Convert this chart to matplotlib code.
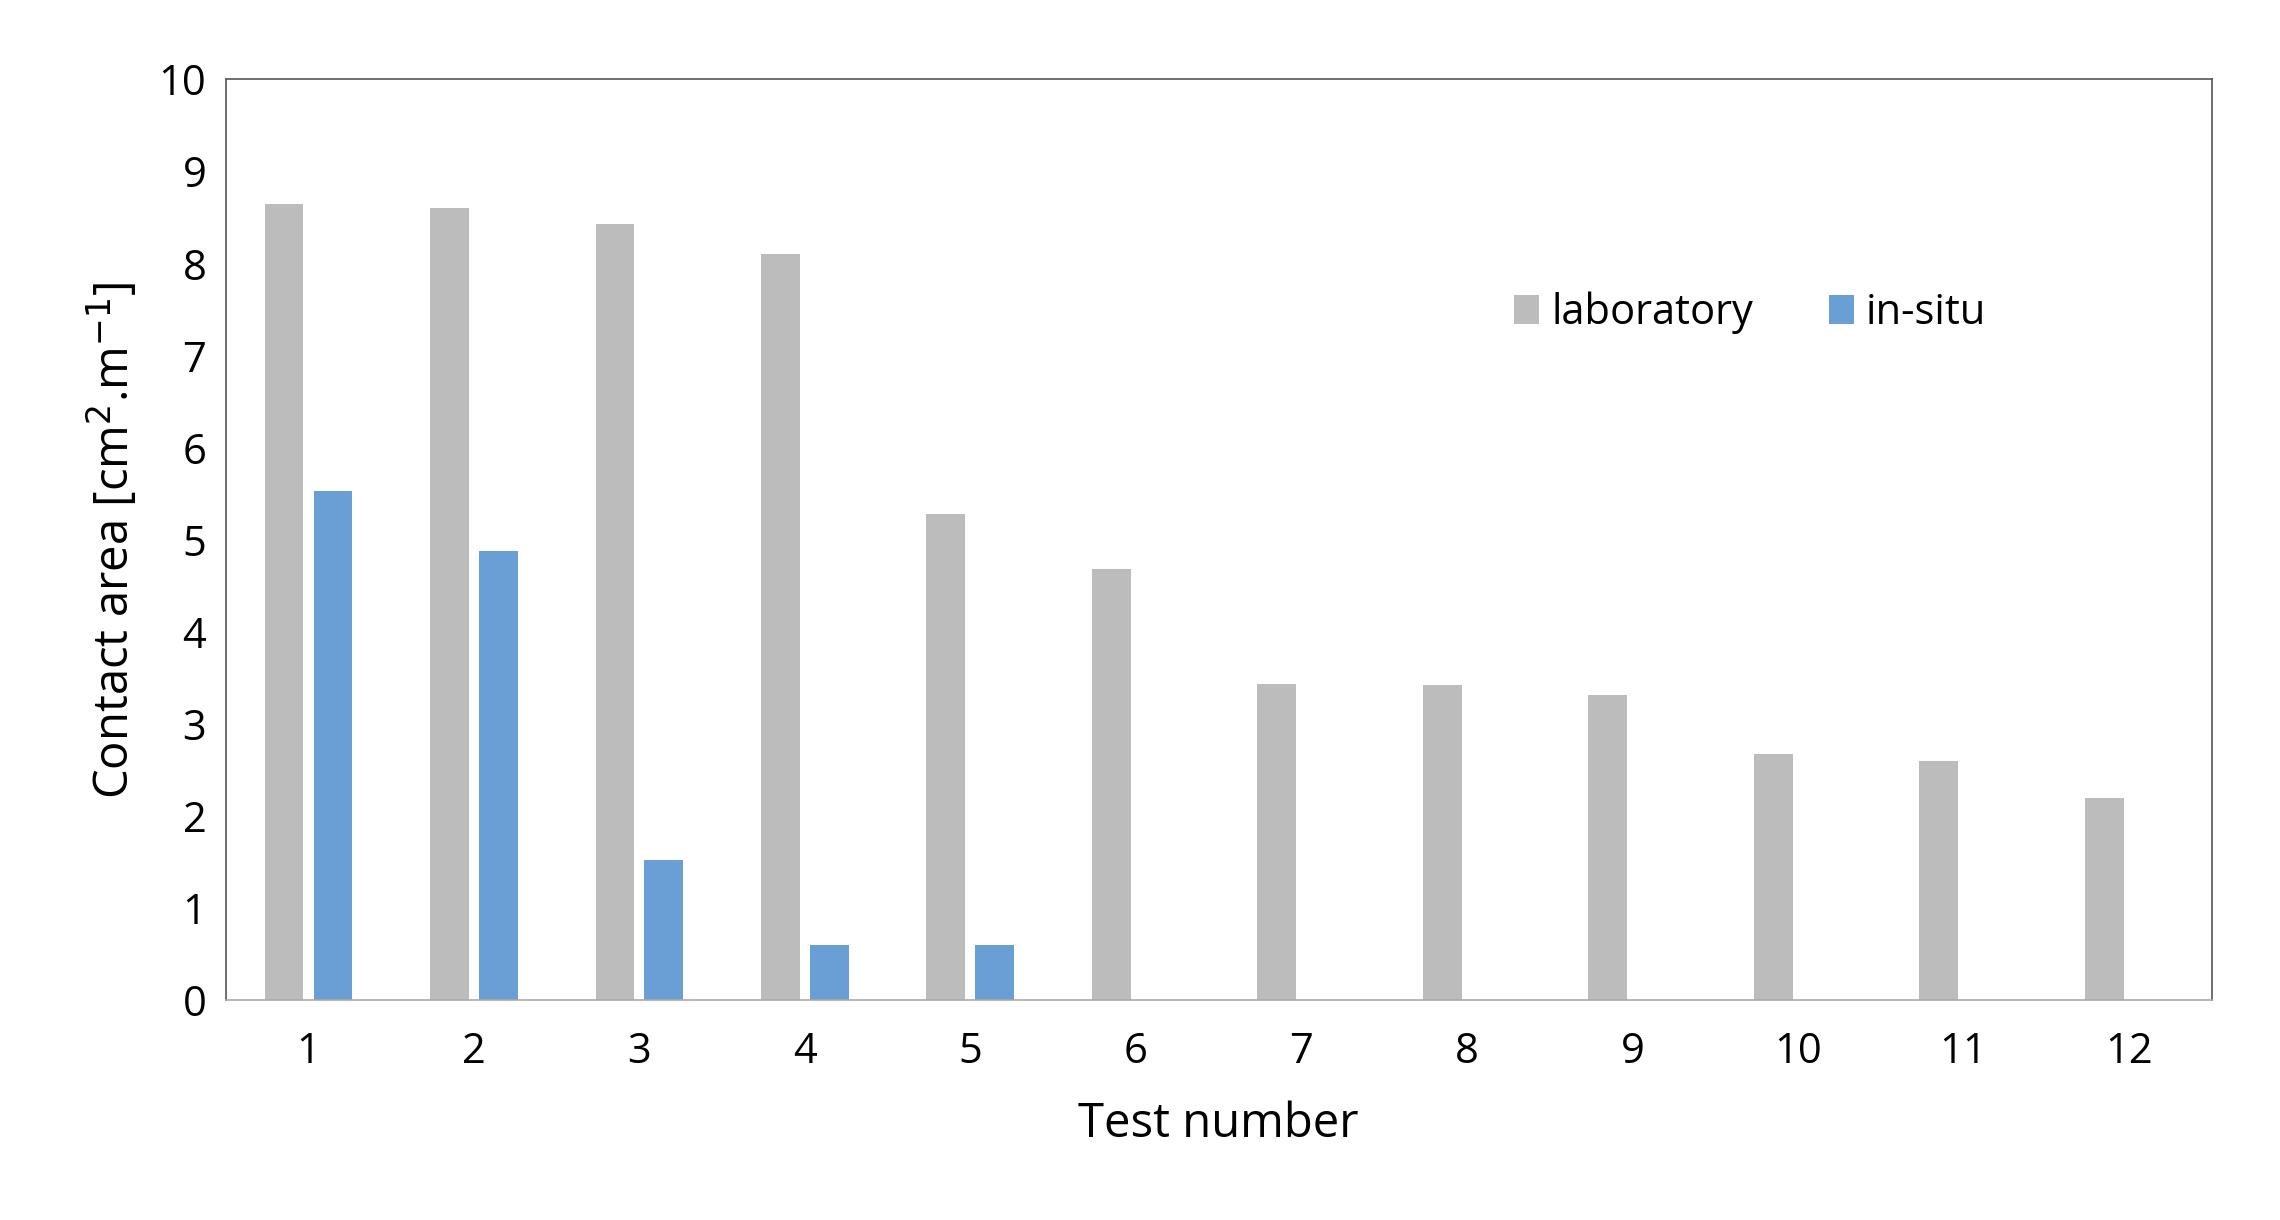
import matplotlib
matplotlib.use("Agg")
import matplotlib.pyplot as plt
import numpy as np

tests = [str(i) for i in range(1, 13)]
laboratory = [8.65, 8.6, 8.43, 8.1, 5.28, 4.68, 3.43, 3.42, 3.32, 2.68, 2.6, 2.2]
in_situ = [5.53, 4.88, 1.52, 0.6, 0.6, 0, 0, 0, 0, 0, 0, 0]

plt.rcParams['font.family'] = ['Open Sans', 'DejaVu Sans']
fig = plt.figure(figsize=(22.8, 12.2), dpi=100)
ax = fig.add_axes([0.099, 0.18, 0.871, 0.755])
x = np.arange(1, 13)
w = 0.235
ax.bar(x - 0.148, laboratory, w, color='#bcbcbc', label='laboratory')
ax.bar(x + 0.148, in_situ, w, color='#6a9fd6', label='in-situ')
ax.set_xlim(0.5, 12.5)
ax.set_ylim(0, 10)
ax.set_yticks(range(0, 11))
ax.set_xticks(x)
ax.set_xticklabels(tests)
ax.tick_params(axis='both', labelsize=30, length=0, pad=14)
ax.tick_params(axis='x', pad=22)
for s in ax.spines.values():
    s.set_color('#555555'); s.set_linewidth(1.2)
ax.spines['bottom'].set_color('#aaaaaa')
ax.set_xlabel('Test number', fontsize=34, labelpad=20)
ax.set_ylabel('Contact area [cm$^2$.m$^{-1}$]', fontsize=34, labelpad=14)
ax.legend(loc='upper left', bbox_to_anchor=(0.63, 0.81), ncol=2, fontsize=30, frameon=False,
          handlelength=0.6, handleheight=0.7, handletextpad=0.3, columnspacing=1.8)
fig.savefig('out.png', dpi=100, facecolor='white')
